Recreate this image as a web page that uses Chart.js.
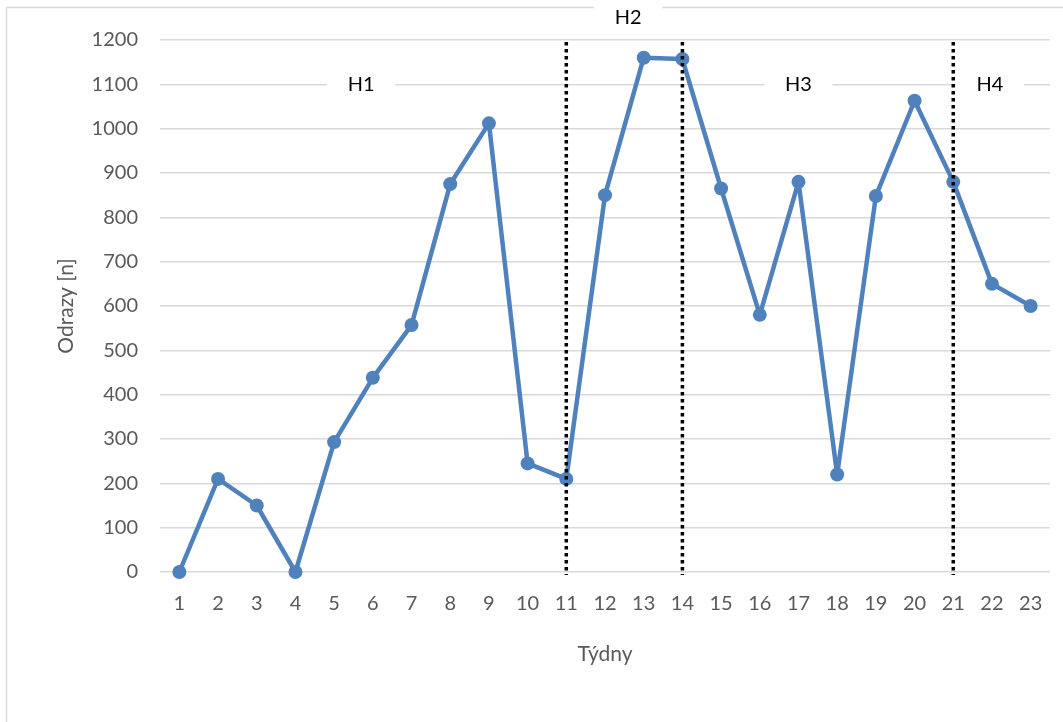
<!DOCTYPE html>
<html>
<head>
<meta charset="utf-8">
<script src="https://cdn.jsdelivr.net/npm/chart.js@4/dist/chart.umd.min.js"></script>
<style>
  html, body { margin: 0; padding: 0; background: #fff; }
  #wrap { position: relative; width: 1063px; height: 722px; }
</style>
</head>
<body>
<div id="wrap"><canvas id="odrazyChart" width="1063" height="722"></canvas></div>
<script>
// Weeks on the x axis
const weeks = ['1','2','3','4','5','6','7','8','9','10','11','12','13','14','15','16','17','18','19','20','21','22','23'];
// Reflections per week
const reflections = [0, 210, 150, 0, 293, 438, 557, 875, 1012, 245, 210, 850, 1160, 1157, 865, 580, 880, 220, 848, 1063, 880, 650, 600];
// Period boundaries (week labels where the dotted lines sit)
const boundaryWeeks = ['11', '14', '21'];
// Period labels and where they sit (x as week index, y as value)
const periodNames = ['H1', 'H2', 'H3', 'H4'];
const periodX = [4.7, 11.6, 16, 20.95];
const periodY = [1100, 1250, 1100, 1100];

const textGray = '#595959';
const fontFamily = "'Lato', 'Noto Sans', sans-serif";

// Draws the outer frame, dotted period lines and the period labels
const periodPlugin = {
    id: 'periods',
    beforeDraw(chart) {
        const ctx = chart.ctx;
        ctx.save();
        ctx.fillStyle = '#fff';
        ctx.fillRect(0, 0, chart.width, chart.height);
        ctx.strokeStyle = '#d9d9d9';
        ctx.lineWidth = 1.5;
        ctx.strokeRect(6.5, 7.5, 1200, 900);
        ctx.restore();
    },
    afterDatasetsDraw(chart) {
        const ctx = chart.ctx;
        const xs = chart.scales.x;
        const ys = chart.scales.y;
        const area = chart.chartArea;
        ctx.save();
        // dotted boundaries
        ctx.strokeStyle = '#000';
        ctx.lineWidth = 3.5;
        ctx.setLineDash([3.5, 3.5]);
        boundaryWeeks.forEach(w => {
            const x = xs.getPixelForValue(weeks.indexOf(w));
            ctx.beginPath();
            ctx.moveTo(x, area.top + 2);
            ctx.lineTo(x, area.bottom + 3);
            ctx.stroke();
        });
        ctx.setLineDash([]);
        // labels with white boxes
        ctx.font = '20px ' + fontFamily;
        ctx.textAlign = 'center';
        ctx.textBaseline = 'middle';
        periodNames.forEach((name, i) => {
            const x = xs.getPixelForValue(periodX[i]);
            const y = ys.getPixelForValue(periodY[i]);
            ctx.fillStyle = '#fff';
            ctx.fillRect(x - 34, y - 20, 68, 40);
            ctx.fillStyle = '#000';
            ctx.fillText(name, x, y);
        });
        ctx.restore();
    }
};

const ctx = document.getElementById('odrazyChart').getContext('2d');
new Chart(ctx, {
    type: 'line',
    data: {
        labels: weeks,
        datasets: [{
            data: reflections,
            borderColor: '#4f81bd',
            backgroundColor: '#4f81bd',
            borderWidth: 4.5,
            borderJoinStyle: 'round',
            borderCapStyle: 'round',
            pointRadius: 7,
            pointHoverRadius: 7,
            pointBorderWidth: 0,
            tension: 0,
            fill: false,
            clip: false
        }]
    },
    options: {
        responsive: false,
        animation: false,
        layout: { padding: { left: 0, top: 40, right: 13, bottom: 0 } },
        plugins: {
            legend: { display: false },
            tooltip: { enabled: false }
        },
        scales: {
            x: {
                offset: true,
                grid: { display: false, drawTicks: false },
                border: { display: false },
                ticks: {
                    color: textGray,
                    padding: 20,
                    font: { family: fontFamily, size: 20 },
                    maxRotation: 0,
                    autoSkip: false
                },
                title: {
                    display: true,
                    text: 'Týdny',
                    color: textGray,
                    font: { family: fontFamily, size: 21 },
                    padding: { top: 0, bottom: 55 }
                },
                afterFit(scale) { scale.height = 150; }
            },
            y: {
                min: 0,
                max: 1200,
                grid: { color: '#d9d9d9', lineWidth: 1.5, drawTicks: false },
                border: { display: false },
                ticks: {
                    stepSize: 100,
                    color: textGray,
                    padding: 22,
                    font: { family: fontFamily, size: 20 },
                    callback: v => String(v)
                },
                title: {
                    display: true,
                    text: 'Odrazy [n]',
                    color: textGray,
                    font: { family: fontFamily, size: 21 },
                    padding: { top: 54, bottom: 0 }
                },
                afterFit(scale) { scale.width = 160; }
            }
        }
    },
    plugins: [periodPlugin]
});
</script>
</body>
</html>
